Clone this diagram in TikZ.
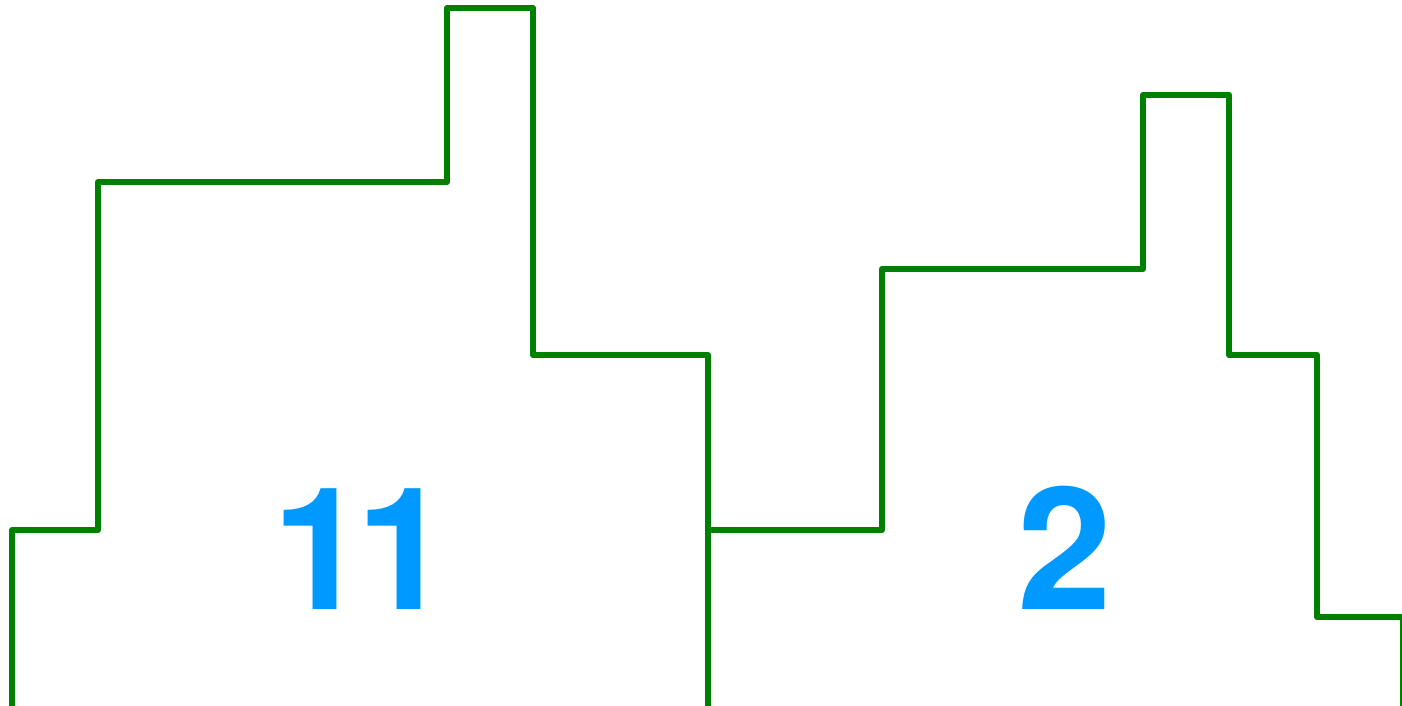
\documentclass[tikz,border=0pt]{standalone}
\usepackage{fontspec}
\newfontfamily\numfont{TeX Gyre Heros}
\definecolor{stepgreen}{RGB}{0,128,0}
\definecolor{numblue}{RGB}{0,153,255}
\begin{document}
\begin{tikzpicture}[
				x=0.02cm, y=-0.02cm,
				line width=3.4pt,
				line join=round,
				every node/.style={font=\numfont\bfseries\fontsize{97pt}{97pt}\selectfont, text=numblue, inner sep=0pt, anchor=base}
				]
				
				\useasboundingbox (0,0) rectangle (1402,706);
				\clip (0,0) rectangle (1402,706);
				
				\path 
				(12,712) coordinate (L0)
				(708,712) coordinate (M0)
				(708,530) coordinate (M1)
				(1403,712) coordinate (R0)
				;
				
				\draw[stepgreen] (L0) |- (98,530) |- (447,182) |- (533,8) |- (708,355) -- (M0);
				\draw[stepgreen] (M1) -| (882,269) -| (1143,95) -| (1229,355) -| (1317,617) -| (R0);
				
				\node (eleven) at (362,609) {1\kern-0.22cm 1};
				\node (two) at (1065,609) {2};
				
			\end{tikzpicture}
\end{document}
